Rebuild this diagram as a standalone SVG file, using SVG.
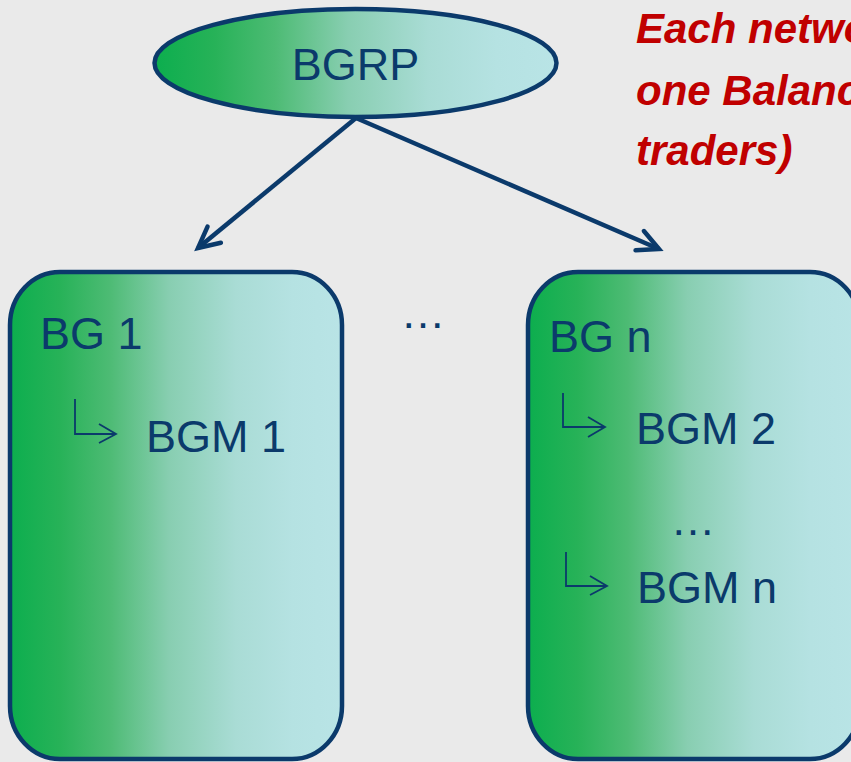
<svg xmlns="http://www.w3.org/2000/svg" width="851" height="762" viewBox="0 0 851 762">
<defs>
<linearGradient id="g" x1="0" y1="0" x2="1" y2="0">
<stop offset="0" stop-color="#0CAE4E"/>
<stop offset="0.15" stop-color="#27B258"/>
<stop offset="0.3" stop-color="#4DBB74"/>
<stop offset="0.48" stop-color="#88CEB1"/>
<stop offset="0.68" stop-color="#A9DCD5"/>
<stop offset="0.85" stop-color="#B5E2E2"/>
<stop offset="1" stop-color="#B9E4E6"/>
</linearGradient>
<marker id="ah" markerUnits="userSpaceOnUse" markerWidth="40" markerHeight="40" viewBox="-30 -20 40 40" refX="0" refY="0" orient="auto" overflow="visible">
<path d="M -21 -10.5 L 0 0 L -21 10.5" fill="none" stroke="#0B3A6B" stroke-width="4.5" stroke-linecap="round" stroke-linejoin="miter"/>
</marker>
<marker id="sm" markerUnits="userSpaceOnUse" markerWidth="30" markerHeight="30" viewBox="-20 -15 30 30" refX="0" refY="0" orient="auto" overflow="visible">
<path d="M -16 -10 L 0 0 L -16 10" fill="none" stroke="#0B3A6B" stroke-width="1.8"/>
</marker>
</defs>
<style>
.bd{stroke:#0B3A6B;stroke-width:4.5;fill:url(#g)}
.t{font-family:"Liberation Sans",Arial,sans-serif;fill:#0B3A6B;font-size:45px}
.red{font-family:"Liberation Sans",Arial,sans-serif;fill:#C00000;font-size:42px;font-weight:bold;font-style:italic}
.sub{fill:none;stroke:#0B3A6B;stroke-width:1.8}
.con{fill:none;stroke:#0B3A6B;stroke-width:4.5}
</style>
<rect width="851" height="762" fill="#EAEAEA"/>
<g id="note">
<text class="red" x="636" y="43">Each network</text>
<text class="red" x="636" y="105">one Balance</text>
<text class="red" x="636" y="165">traders)</text>
</g>
<g id="connectors">
<line class="con" x1="356" y1="118" x2="198" y2="248" marker-end="url(#ah)"/>
<line class="con" x1="356" y1="118" x2="659" y2="249" marker-end="url(#ah)"/>
</g>
<g id="bgrp">
<ellipse class="bd" cx="355.5" cy="63" rx="201" ry="54"/>
<text class="t" x="355.5" y="80" text-anchor="middle" font-size="46">BGRP</text>
</g>
<g id="bg1">
<rect class="bd" x="10" y="272" width="332" height="487" rx="50" ry="53"/>
<text class="t" x="40" y="349">BG 1</text>
<path class="sub" d="M 75 399 V 434 H 116" />
<path class="sub" d="M 99 424 L 116 434 L 99 443"/>
<text class="t" x="146" y="452">BGM 1</text>
</g>
<g id="dots-mid">
<text class="t" x="423" y="328" text-anchor="middle">…</text>
</g>
<g id="bgn">
<rect class="bd" x="528" y="272" width="332" height="487" rx="50" ry="53"/>
<text class="t" x="549" y="352">BG n</text>
<path class="sub" d="M 563 393 V 427 H 605"/>
<path class="sub" d="M 588 417 L 605 427 L 588 437"/>
<text class="t" x="636" y="444">BGM 2</text>
<text class="t" x="693" y="535" text-anchor="middle">…</text>
<path class="sub" d="M 566 552 V 586 H 607"/>
<path class="sub" d="M 590 576 L 607 586 L 590 595"/>
<text class="t" x="637" y="603">BGM n</text>
</g>
</svg>
